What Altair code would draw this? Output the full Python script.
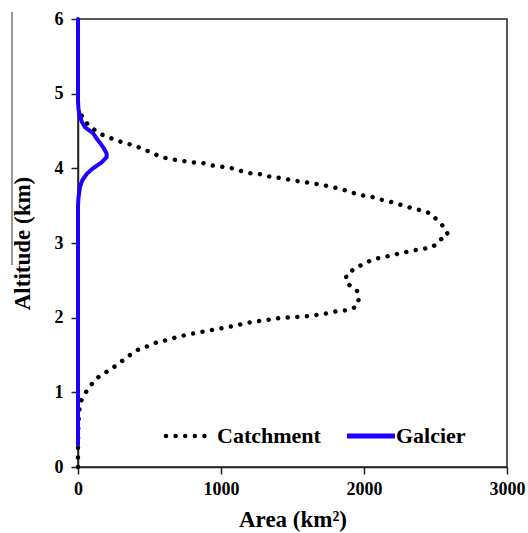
import altair as alt
import pandas as pd

# Catchment hypsometry (altitude km, area km2)
catch_alt = [0.0, 0.3, 0.6, 0.86, 0.96, 1.07, 1.19, 1.26, 1.34, 1.42, 1.50, 1.57, 1.62, 1.67,
             1.70, 1.74, 1.77, 1.80, 1.82, 1.85, 1.87, 1.90, 1.93, 1.95, 1.97, 1.99, 2.00,
             2.01, 2.02, 2.04, 2.06, 2.09, 2.10, 2.15, 2.26, 2.36, 2.46, 2.57, 2.66, 2.73,
             2.78, 2.81, 2.84, 2.87, 2.90, 2.92, 2.95, 3.04, 3.11, 3.20, 3.31, 3.40, 3.44,
             3.47, 3.51, 3.55, 3.58, 3.62, 3.64, 3.68, 3.72, 3.75, 3.78, 3.80, 3.82, 3.84,
             3.87, 3.88, 3.92, 3.93, 3.96, 4.00, 4.02, 4.04, 4.07, 4.08, 4.10, 4.12, 4.15,
             4.20, 4.26, 4.31, 4.34, 4.39, 4.43, 4.49, 4.58, 4.69, 4.75]
catch_area = [0, 0, 3, 14, 42, 77, 133, 189, 252, 308, 364, 420, 490, 552,
              622, 692, 762, 832, 902, 972, 1042, 1112, 1182, 1252, 1322, 1392, 1462,
              1531, 1608, 1678, 1748, 1818, 1888, 1951, 1965, 1951, 1881, 1874, 1937, 2007,
              2063, 2133, 2203, 2273, 2343, 2413, 2483, 2531, 2587, 2566, 2510, 2461, 2392,
              2329, 2259, 2189, 2119, 2049, 1979, 1909, 1846, 1776, 1706, 1636, 1566, 1496,
              1427, 1357, 1287, 1217, 1147, 1084, 1014, 937, 874, 797, 727, 657, 587,
              524, 455, 385, 322, 252, 189, 133, 70, 35, 0]

# Glacier hypsometry
glac_alt = [0.3, 3.5, 3.6, 3.75, 3.84, 3.93, 4.0, 4.08, 4.15, 4.2, 4.27, 4.34, 4.4, 4.47,
            4.55, 4.62, 4.69, 4.8, 4.9, 6.0]
glac_area = [0, 0, 3, 14, 30, 63, 105, 165, 200, 200, 180, 154, 130, 105,
             50, 28, 14, 3, 0, 0]

x_ticks = [0, 1000, 2000, 3000]
y_ticks = [0, 1, 2, 3, 4, 5, 6]
series_names = ["Catchment", "Galcier"]

FONT = "Liberation Serif"
BLUE = "#1f00ff"

df_c = pd.DataFrame({"alt": catch_alt, "area": catch_area})
df_g = pd.DataFrame({"alt": glac_alt, "area": glac_area})

x_enc = alt.X("area:Q", scale=alt.Scale(domain=[0, 3000], nice=False),
              axis=alt.Axis(values=x_ticks, title="Area (km²)", format="d",
                            tickSize=7, labelPadding=6, titlePadding=10,
                            labelFlush=False))
y_enc = alt.Y("alt:Q", scale=alt.Scale(domain=[0, 6], nice=False),
              axis=alt.Axis(values=y_ticks, title="Altitude (km)", format="d",
                            tickSize=7, labelPadding=8, titlePadding=20,
                            labelFlush=False))

catch = alt.Chart(df_c).mark_line(
    color="black", strokeWidth=4.5, strokeDash=[0.01, 9.6], strokeCap="round"
).encode(x=x_enc, y=y_enc, order="alt:Q")

glac = alt.Chart(df_g).mark_line(
    color=BLUE, strokeWidth=4, strokeCap="round"
).encode(x="area:Q", y="alt:Q", order="alt:Q")

one = alt.Data(values=[{}])
leg_c = alt.Chart(one).mark_rule(
    color="black", strokeWidth=4.5, strokeDash=[0.01, 9.6], strokeCap="round"
).encode(x=alt.value(88), x2=alt.value(133), y=alt.value(417))
leg_g = alt.Chart(one).mark_rule(color=BLUE, strokeWidth=5).encode(
    x=alt.value(269), x2=alt.value(317), y=alt.value(417))
txt_c = alt.Chart(one).mark_text(
    text=series_names[0], font=FONT, fontSize=22, fontWeight="bold", align="left",
    baseline="middle", color="black"
).encode(x=alt.value(139), y=alt.value(417))
txt_g = alt.Chart(one).mark_text(
    text=series_names[1], font=FONT, fontSize=22, fontWeight="bold", align="left",
    baseline="middle", color="black"
).encode(x=alt.value(318), y=alt.value(417))
artifact = alt.Chart(one).mark_rule(color="#333333", strokeWidth=1).encode(
    x=alt.value(-66), y=alt.value(-7), y2=alt.value(246))

chart = alt.layer(catch, glac, leg_c, leg_g, txt_c, txt_g, artifact).properties(
    width=429, height=448,
    autosize=alt.AutoSizeParams(type="none"),
    padding={"left": 78, "top": 19, "right": 21, "bottom": 66},
    background="white",
).configure_view(
    stroke="#222222", strokeWidth=1.5
).configure_axis(
    grid=False, domainColor="#222222", domainWidth=1.5, tickColor="#222222",
    tickWidth=1.5, labelFont=FONT, labelFontSize=18, labelFontWeight="bold",
    labelColor="black", titleFont=FONT, titleFontSize=23, titleFontWeight="bold",
    titleColor="black"
)

chart.save("out.html", embed_options={"renderer": "svg", "actions": False})
